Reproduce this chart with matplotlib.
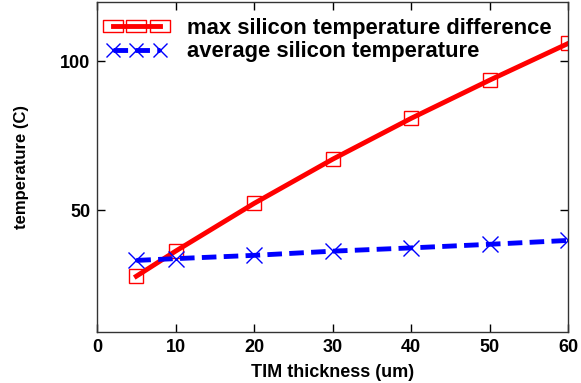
import matplotlib
matplotlib.use("Agg")
import matplotlib.pyplot as plt
from matplotlib.path import Path

x = [5, 10, 20, 30, 40, 50, 60]
max_diff = [27.9, 36.3, 52.3, 67.1, 80.8, 93.6, 105.9]
avg_temp = [33.2, 33.8, 34.9, 36.3, 37.4, 38.6, 39.9]
xticks = [0, 10, 20, 30, 40, 50, 60]
yticks = [50, 100]

plt.rcParams['font.family'] = ['Liberation Sans', 'DejaVu Sans']
plt.rcParams['font.weight'] = 'bold'

fig = plt.figure(figsize=(5.81, 3.83), dpi=100)
ax = fig.add_axes([0.167, 0.133, 0.811, 0.862])

ax.plot(x, max_diff, color='red', lw=3.5, marker='s', ms=10, mfc='none',
        mec='red', mew=1.0, label='max silicon temperature difference')
ax.plot(x, avg_temp, color='blue', lw=3.5, ls=(0, (3, 1.5)), marker='x', ms=11,
        mec='blue', mew=1.0, label='average silicon temperature')

ax.set_xlim(0, 60)
ax.set_ylim(9.2, 119.8)
ax.set_xticks(xticks)
ax.set_yticks(yticks)
ax.tick_params(direction='in', top=True, right=True, length=6, width=1,
               labelsize=13, pad=5)
for lab in ax.get_xticklabels() + ax.get_yticklabels():
    lab.set_fontweight('bold')
for s in ax.spines.values():
    s.set_linewidth(1.0)
    s.set_color('#333333')

ax.set_xlabel('TIM thickness (um)', fontsize=13, fontweight='bold', labelpad=6)
ax.set_ylabel('temperature (C)', fontsize=12, fontweight='bold', labelpad=22)

leg = ax.legend(loc='upper left', frameon=False, numpoints=3, handlelength=2.74,
                fontsize=15.8, borderaxespad=0.0, borderpad=0.3,
                handletextpad=0.93, labelspacing=0.12,
                bbox_to_anchor=(0.005, 0.972))
for t in leg.get_texts():
    t.set_fontweight('bold')

rect = Path([(-1.5, -1), (1.5, -1), (1.5, 1), (-1.5, 1), (-1.5, -1)],
            [Path.MOVETO, Path.LINETO, Path.LINETO, Path.LINETO, Path.CLOSEPOLY])
h0, h1 = leg.legend_handles
h0.set_marker(rect)
h0.set_markersize(13.7)
h1.set_markersize(10)

fig.savefig('out.png', dpi=100)
